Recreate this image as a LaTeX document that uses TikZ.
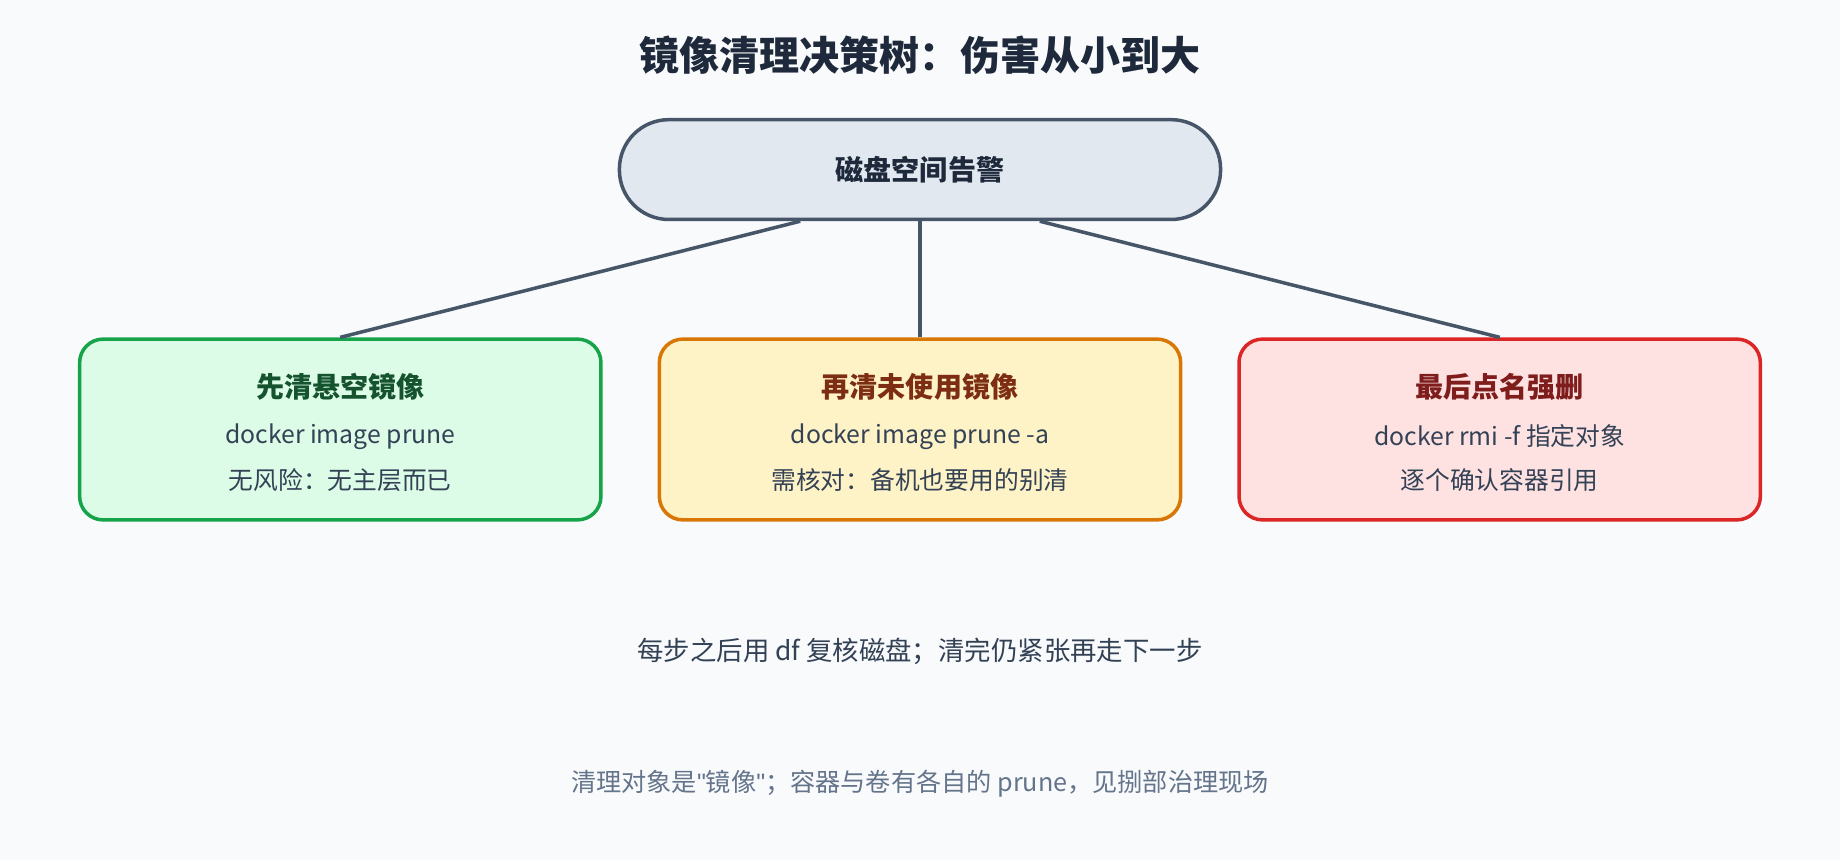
\documentclass[tikz,border=0pt]{standalone}
\usepackage{fontspec}
\setmainfont{Noto Sans CJK SC}
\newfontfamily\quotefont{Liberation Sans}
\usetikzlibrary{positioning}
\definecolor{bg}{HTML}{F8FAFC}
\definecolor{ink}{HTML}{1E293B}
\definecolor{slate}{HTML}{475569}
\definecolor{body}{HTML}{334155}
\definecolor{muted}{HTML}{64748B}
\definecolor{rootfill}{HTML}{E2E8F0}
\definecolor{gline}{HTML}{16A34A}\definecolor{gfill}{HTML}{DCFCE7}\definecolor{ghead}{HTML}{14532D}
\definecolor{oline}{HTML}{D97706}\definecolor{ofill}{HTML}{FEF3C7}\definecolor{ohead}{HTML}{7C2D12}
\definecolor{rline}{HTML}{DC2626}\definecolor{rfill}{HTML}{FEE2E2}\definecolor{rhead}{HTML}{7F1D1D}
\newcommand\dq{{\quotefont\symbol{34}}}
\tikzset{
  step/.style={draw=#1, line width=0.85pt, rounded corners=0.2cm,
    minimum width=4.44cm, minimum height=1.54cm, align=center},
  head/.style={font=\fontsize{6.8}{8}\selectfont\bfseries},
  txt/.style={text=body, font=\fontsize{6}{7}\selectfont},
  line/.style={draw=slate, line width=0.85pt}
}
\begin{document}
\begin{tikzpicture}[x=0.01cm,y=-0.01cm]
  \fill[bg] (0,0) rectangle (1568,733);
  \useasboundingbox (0,0) rectangle (1568,733);

  % title
  \node[text=ink, font=\fontsize{9.7}{11}\selectfont\bfseries] (title) at (784,47) {镜像清理决策树：伤害从小到大};

  % root
  \node[draw=slate, fill=rootfill, line width=0.85pt, rounded corners=0.42cm,
        minimum width=5.12cm, minimum height=0.85cm, head, text=ink] (root) at (784,144.5) {磁盘空间告警};

  % three steps
  \node[step=gline, fill=gfill] (prune) at (290,366) {};
  \node[head, text=ghead] at (290,330) {先清悬空镜像};
  \node[txt] at (290,372) {docker image prune};
  \node[txt] at (290,409) {无风险：无主层而已};

  \node[step=oline, fill=ofill] (pruneall) at (784,366) {};
  \node[head, text=ohead] at (784,330) {再清未使用镜像};
  \node[txt] at (784,372) {docker image prune -a};
  \node[txt] at (784,409) {需核对：备机也要用的别清};

  \node[step=rline, fill=rfill] (rmi) at (1278,366) {};
  \node[head, text=rhead] at (1278,330) {最后点名强删};
  \node[txt] at (1278,372) {docker rmi -f 指定对象};
  \node[txt] at (1278,409) {逐个确认容器引用};

  % connectors
  \draw[line] ([xshift=-1.02cm]root.south) -- (prune.north);
  \draw[line] (root.south) -- (pruneall.north);
  \draw[line] ([xshift=1.02cm]root.south) -- (rmi.north);

  % notes
  \node[text=body, font=\fontsize{6.4}{7}\selectfont] (note) at (784,555) {每步之后用 df 复核磁盘；清完仍紧张再走下一步};
  \node[text=muted, font=\fontsize{6.1}{7}\selectfont] (foot) at (784,668) {清理对象是\dq 镜像\dq；容器与卷有各自的 prune，见捌部治理现场};
\end{tikzpicture}
\end{document}
